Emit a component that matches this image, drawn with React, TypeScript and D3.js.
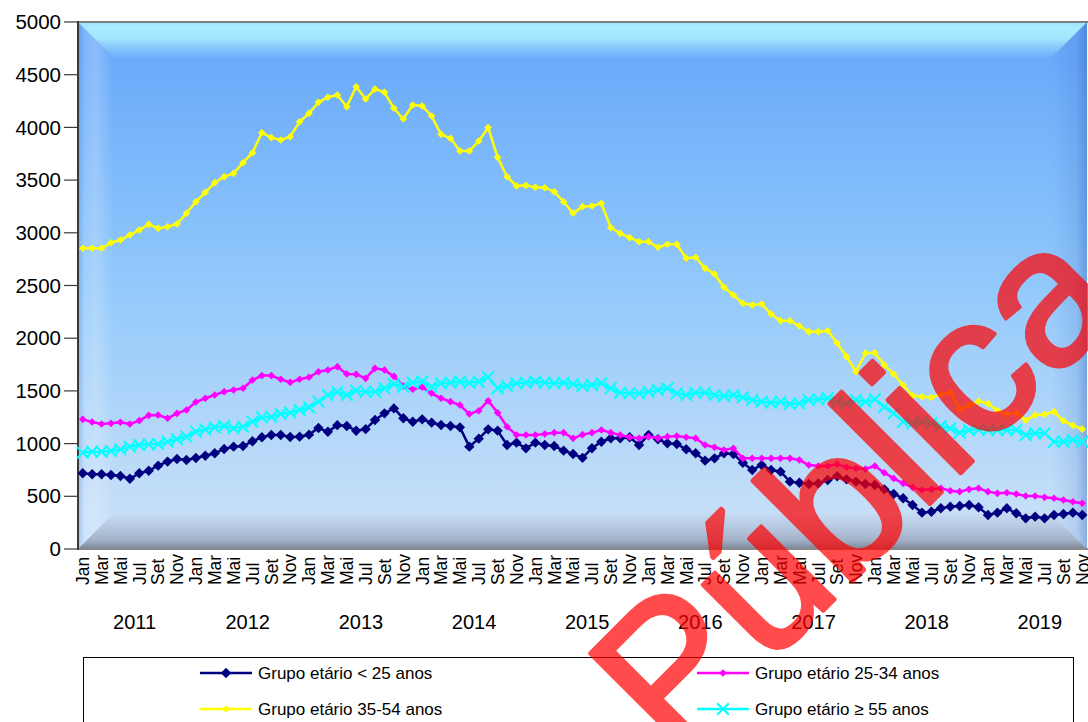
import React from "react";
import * as d3 from "d3";

const monthNames = ["Jan", "Fev", "Mar", "Abr", "Mai", "Jun", "Jul", "Ago", "Set", "Out", "Nov", "Dez"];
const years = ["2011", "2012", "2013", "2014", "2015", "2016", "2017", "2018", "2019"];
const yTicks = [0, 500, 1000, 1500, 2000, 2500, 3000, 3500, 4000, 4500, 5000];

const seriesNames = [
  "Grupo etário < 25 anos",
  "Grupo etário 25-34 anos",
  "Grupo etário 35-54 anos",
  "Grupo etário ≥ 55 anos",
];

const under25 = [
  718, 709, 709, 702, 693, 667, 718, 743, 791, 829, 854, 844, 863, 885, 908, 949, 971, 977, 1022, 1060,
  1082, 1082, 1063, 1066, 1085, 1148, 1112,
  1175, 1167, 1122, 1137, 1224, 1287, 1334, 1240, 1208, 1230, 1199, 1176, 1167, 1154, 971, 1047, 1135, 1123,
  987, 1009, 955, 1009, 987, 977, 933, 901, 865,
  956, 1018, 1050, 1050, 1060, 987, 1082, 1041, 1003, 996, 946, 908, 838, 860, 908, 901, 819, 750, 797, 750,
  734, 639, 629, 617, 623, 655,
  690, 661, 639, 617, 607, 566, 522, 481, 417, 345, 354, 386, 402, 408, 417, 396, 323, 345, 386, 339,
  291, 307, 291, 323, 332, 345, 323,
];

const g25to34 = [
  1230, 1205, 1186, 1192, 1202, 1186, 1218, 1268, 1271, 1240, 1287, 1319, 1395, 1430, 1461, 1493, 1509, 1525,
  1603, 1645, 1645, 1610, 1581, 1610, 1629, 1682, 1698, 1730,
  1660, 1657, 1619, 1714, 1698, 1638, 1546, 1515, 1534, 1477, 1430, 1398, 1366, 1281, 1312, 1407, 1293, 1160,
  1082, 1082, 1082, 1091, 1104, 1104, 1050, 1085,
  1104, 1129, 1104, 1082, 1060, 1050, 1066, 1050, 1066, 1072, 1060, 1050, 987, 965, 939, 955, 860, 860, 860,
  860, 860, 860, 844, 797, 788, 788,
  805, 775, 765, 759, 788, 724, 670, 623, 585, 560, 566, 576, 553, 544, 566, 576, 544, 528, 534, 522, 503,
  503, 490, 481, 465, 449, 434,
];

const g35to54 = [
  2853, 2853, 2853, 2906, 2932, 2979, 3027, 3080, 3042, 3058, 3084, 3185, 3295, 3384, 3476, 3532, 3564, 3665,
  3760, 3950, 3903, 3880, 3912, 4054, 4134, 4238, 4286, 4307, 4196, 4386, 4269, 4364,
  4333, 4181, 4080, 4213, 4203, 4108, 3934, 3896, 3776, 3776, 3871, 3998, 3716, 3532, 3444, 3450, 3431, 3428,
  3390, 3295, 3185, 3248, 3254, 3280, 3049, 2995, 2954, 2916, 2916, 2862, 2891, 2891, 2758, 2768, 2663, 2609,
  2483, 2410,
  2331, 2315, 2325, 2230, 2166, 2166, 2116, 2062, 2062, 2071, 1955, 1825, 1682, 1860, 1862, 1746, 1660, 1556,
  1453, 1445, 1438, 1469, 1485, 1327, 1363, 1402, 1379, 1315, 1279, 1290, 1221, 1271, 1276, 1303, 1216, 1172,
  1137,
];

const over55 = [
  914, 923, 923, 930, 946, 971, 987, 993, 996, 1018, 1041, 1066, 1113, 1135, 1154, 1167, 1145, 1160, 1208,
  1249, 1255, 1281, 1293, 1319, 1345, 1398, 1460, 1490,
  1461, 1502, 1493, 1493, 1525, 1565, 1540, 1578, 1588, 1540, 1572, 1578, 1588, 1578, 1588, 1629, 1525, 1546,
  1572, 1578, 1588, 1578, 1572, 1578, 1565, 1546,
  1556, 1572, 1525, 1483, 1477, 1477, 1493, 1509, 1525, 1477, 1461, 1483, 1483, 1461, 1452, 1461, 1439, 1414,
  1398, 1388, 1398, 1376, 1382, 1414, 1420, 1430,
  1398, 1382, 1414, 1398, 1420, 1350, 1287, 1208, 1192, 1208, 1192, 1167, 1145, 1104, 1129, 1135, 1129, 1129,
  1129, 1129, 1082, 1098, 1098, 1018, 1018, 1034, 1018,
];

const seriesData = [under25, g25to34, g35to54, over55];
const colors = ["#000080", "#ff00ff", "#ffff00", "#00ffff"];
const markerKind = ["bigDiamond", "smallDiamond", "smallDiamond", "cross"];

const W = 1088;
const H = 722;
const L = 78;
const R = 1087;
const T = 22;
const B = 549;
const BW = 36;

const nMonths = under25.length;
const x = d3.scaleBand<number>().domain(d3.range(nMonths)).range([L, R]);
const xc = (i: number) => (x(i) as number) + x.bandwidth() / 2;
const y = d3.scaleLinear().domain([0, 5000]).range([B, T]);

const monthLabel = (i: number) => monthNames[i % 12];

function Marker({ kind, cx, cy, color }: { kind: string; cx: number; cy: number; color: string }) {
  if (kind === "bigDiamond") {
    const r = 5.2;
    return <path d={`M${cx},${cy - r}L${cx + r},${cy}L${cx},${cy + r}L${cx - r},${cy}Z`} fill={color} />;
  }
  if (kind === "smallDiamond") {
    const r = 3.8;
    return <path d={`M${cx},${cy - r}L${cx + r},${cy}L${cx},${cy + r}L${cx - r},${cy}Z`} fill={color} />;
  }
  const r = 5.8;
  return (
    <path
      d={`M${cx - r},${cy - r}L${cx + r},${cy + r}M${cx - r},${cy + r}L${cx + r},${cy - r}`}
      stroke={color}
      strokeWidth={2}
      fill="none"
    />
  );
}

export default function App() {
  const line = d3
    .line<number>()
    .x((_, i) => xc(i))
    .y((d) => y(d));

  const legendItems = [
    { lx: 200, ly: 673 },
    { lx: 697, ly: 673 },
    { lx: 200, ly: 709 },
    { lx: 697, ly: 709 },
  ];

  return (
    <svg
      width={W}
      height={H}
      style={{ position: "fixed", left: 0, top: 0, background: "#fff" }}
      fontFamily="'Liberation Sans', Arial, sans-serif"
    >
      <defs>
        <linearGradient id="innerG" gradientUnits="userSpaceOnUse" x1="0" y1={T + BW} x2="0" y2={B - BW}>
          <stop offset="0" stopColor="#6aaafa" />
          <stop offset="0.5" stopColor="#92c9fb" />
          <stop offset="1" stopColor="#c6dff8" />
        </linearGradient>
        <linearGradient id="topG" gradientUnits="userSpaceOnUse" x1="0" y1={T} x2="0" y2={T + BW}>
          <stop offset="0" stopColor="#9fe2fd" />
          <stop offset="0.15" stopColor="#a9ecff" />
          <stop offset="0.45" stopColor="#a2e6fe" />
          <stop offset="0.75" stopColor="#84c4fb" />
          <stop offset="1" stopColor="#6cacfa" />
        </linearGradient>
        <linearGradient id="leftG" gradientUnits="userSpaceOnUse" x1={L} y1="0" x2={L + BW} y2="0">
          <stop offset="0" stopColor="#2a5ab0" stopOpacity="0.25" />
          <stop offset="0.2" stopColor="#ffffff" stopOpacity="0.15" />
          <stop offset="0.5" stopColor="#ffffff" stopOpacity="0.22" />
          <stop offset="1" stopColor="#ffffff" stopOpacity="0" />
        </linearGradient>
        <linearGradient id="rightG" gradientUnits="userSpaceOnUse" x1={R - BW} y1="0" x2={R} y2="0">
          <stop offset="0" stopColor="#1e4eb0" stopOpacity="0" />
          <stop offset="0.7" stopColor="#1e4eb0" stopOpacity="0.12" />
          <stop offset="1" stopColor="#1e4eb0" stopOpacity="0.35" />
        </linearGradient>
        <linearGradient id="bottomG" gradientUnits="userSpaceOnUse" x1="0" y1={B - BW} x2="0" y2={B}>
          <stop offset="0" stopColor="#c6dcf4" />
          <stop offset="0.35" stopColor="#b8cbe4" />
          <stop offset="0.75" stopColor="#a4b2c8" />
          <stop offset="0.9" stopColor="#8c98ac" />
          <stop offset="1" stopColor="#7a8292" />
        </linearGradient>
      </defs>

      {/* plot area with bevel */}
      <rect x={L} y={T} width={R - L} height={B - T} fill="url(#innerG)" />
      <polygon
        points={`${L},${T} ${L + BW},${T + BW} ${L + BW},${B - BW} ${L},${B}`}
        fill="url(#innerG)"
      />
      <polygon
        points={`${L},${T} ${L + BW},${T + BW} ${L + BW},${B - BW} ${L},${B}`}
        fill="url(#leftG)"
      />
      <polygon
        points={`${R},${T} ${R - BW},${T + BW} ${R - BW},${B - BW} ${R},${B}`}
        fill="url(#rightG)"
      />
      <polygon points={`${L},${T} ${R},${T} ${R - BW},${T + BW} ${L + BW},${T + BW}`} fill="url(#topG)" />
      <polygon points={`${L},${B} ${R},${B} ${R - BW},${B - BW} ${L + BW},${B - BW}`} fill="url(#bottomG)" />
      <line x1={L} y1={T} x2={W} y2={T} stroke="#7f7f7f" strokeWidth={2} />
      <line x1={L} y1={B} x2={W} y2={B} stroke="#8a8a8a" strokeWidth={2} />
      <line x1={L} y1={T - 1} x2={L} y2={B + 1} stroke="#3a3a3a" strokeWidth={2} />

      {/* y axis */}
      {yTicks.map((t) => (
        <g key={t}>
          <line x1={64} x2={L} y1={y(t)} y2={y(t)} stroke="#3a3a3a" strokeWidth={1.2} />
          <text x={61} y={y(t)} dy="0.35em" textAnchor="end" fontSize={20.5} fill="#000">
            {t}
          </text>
        </g>
      ))}

      {/* month labels */}
      {d3
        .range(nMonths)
        .filter((i) => i % 2 === 0)
        .map((i) => (
          <text
            key={i}
            transform={`translate(${xc(i)},585) rotate(-90)`}
            dy="0.36em"
            textAnchor="start"
            fontSize={17.5}
            fontFamily="'Liberation Sans Narrow', 'Liberation Sans', Arial, sans-serif"
            fill="#000"
          >
            {monthLabel(i)}
          </text>
        ))}

      {/* year labels */}
      {years.map((yr, k) => (
        <text
          key={yr}
          x={(xc(k * 12 + 5) + xc(k * 12 + 6)) / 2}
          y={622}
          dy="0.36em"
          textAnchor="middle"
          fontSize={20}
          fontFamily="'Liberation Sans Narrow', 'Liberation Sans', Arial, sans-serif"
          fill="#000"
        >
          {yr}
        </text>
      ))}

      {/* series */}
      {seriesData.map((vals, s) => (
        <g key={s}>
          <path d={line(vals) || ""} fill="none" stroke={colors[s]} strokeWidth={2.5} />
          {vals.map((v, i) => (
            <Marker key={i} kind={markerKind[s]} cx={xc(i)} cy={y(v)} color={colors[s]} />
          ))}
        </g>
      ))}

      {/* legend */}
      <rect x={83.5} y={657.5} width={990} height={90} fill="#fff" stroke="#000" strokeWidth={1} />
      {legendItems.map((it, s) => (
        <g key={s}>
          <line x1={it.lx} x2={it.lx + 52} y1={it.ly} y2={it.ly} stroke={colors[s]} strokeWidth={2.6} />
          <Marker kind={markerKind[s]} cx={it.lx + 26} cy={it.ly} color={colors[s]} />
          <text x={it.lx + 58} y={it.ly} dy="0.36em" fontSize={17} fill="#000">
            {seriesNames[s]}
          </text>
        </g>
      ))}

      {/* watermark */}
      <g opacity={0.7}>
        <text
          transform="translate(674,760) rotate(-45)"
          fontSize={196}
          fill="#ff0000"
          stroke="#ff0000"
          strokeWidth={4}
          strokeLinejoin="round"
          fontFamily="'Liberation Sans', Arial, sans-serif"
        >
          Pública
        </text>
      </g>
    </svg>
  );
}
